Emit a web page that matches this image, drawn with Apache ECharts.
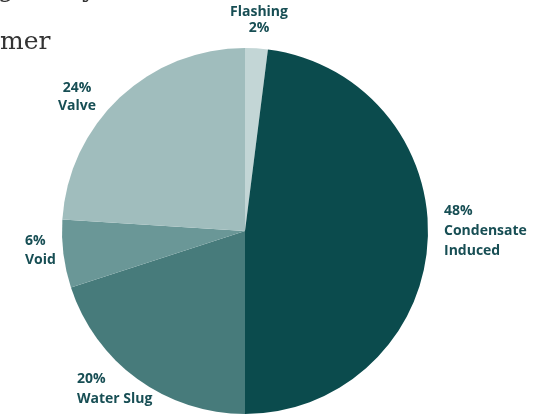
<!DOCTYPE html>
<html>
<head>
<meta charset="utf-8">
<style>
  html, body { margin: 0; padding: 0; background: #ffffff; }
  #chart { width: 538px; height: 416px; }
</style>
<script src="https://cdn.jsdelivr.net/npm/echarts@6/dist/echarts.min.js"></script>
</head>
<body>
<div id="chart"></div>
<script>
// Data (clockwise from 12 o'clock)
var categories = ['Flashing', 'Condensate\nInduced', 'Water Slug', 'Void', 'Valve'];
var values = [2, 48, 20, 6, 24];
var colors = ['#c3d6d6', '#0b4b4d', '#477b7b', '#6a9797', '#a0bdbd'];

// Label placement (text only)
var labelPlace = [
  { x: 259, y: 4,   align: 'center', nameFirst: true, lh: 16 },
  { x: 444, y: 201, align: 'left', lh: 20 },
  { x: 77,  y: 369, align: 'left', lh: 20 },
  { x: 25,  y: 232, align: 'left', lh: 19 },
  { x: 77,  y: 79,  align: 'center', lh: 18 }
];

var chart = echarts.init(document.getElementById('chart'), null, { renderer: 'canvas' });

var pieData = categories.map(function (c, i) {
  return {
    name: c, value: values[i], itemStyle: { color: colors[i] },
    label: { lineHeight: labelPlace[i].lh }
  };
});

chart.setOption({
  animation: false,
  backgroundColor: '#ffffff',
  graphic: [
    {
      type: 'text', left: 0, top: 30,
      style: { text: 'mer', font: '25px "DejaVu Serif", "Liberation Serif", serif', fill: '#333333' }
    },
    {
      type: 'text', left: -2, top: -22,
      style: { text: 'g', font: '25px "DejaVu Serif", "Liberation Serif", serif', fill: '#333333' }
    },
    {
      type: 'text', left: 82, top: -22,
      style: { text: 'y', font: '25px "DejaVu Serif", "Liberation Serif", serif', fill: '#333333' }
    }
  ],
  series: [{
    type: 'pie',
    center: [245, 231],
    radius: 183,
    startAngle: 90,
    clockwise: true,
    avoidLabelOverlap: false,
    minShowLabelAngle: 0,
    data: pieData,
    itemStyle: { borderWidth: 0 },
    labelLine: { show: false },
    label: {
      show: true,
      position: 'outside',
      overflow: 'none',
      color: '#174e54',
      fontFamily: '"Open Sans", "Noto Sans", sans-serif',
      fontWeight: 'bold',
      fontSize: 14,
      formatter: function (p) {
        return labelPlace[p.dataIndex].nameFirst ? p.name + '\n' + p.value + '%' : p.value + '%\n' + p.name;
      }
    },
    labelLayout: function (params) {
      var lp = labelPlace[params.dataIndex];
      return { x: lp.x, y: lp.y, align: lp.align, verticalAlign: 'top', hideOverlap: false, moveOverlap: false };
    },
    emphasis: { disabled: true }
  }]
});
</script>
</body>
</html>
